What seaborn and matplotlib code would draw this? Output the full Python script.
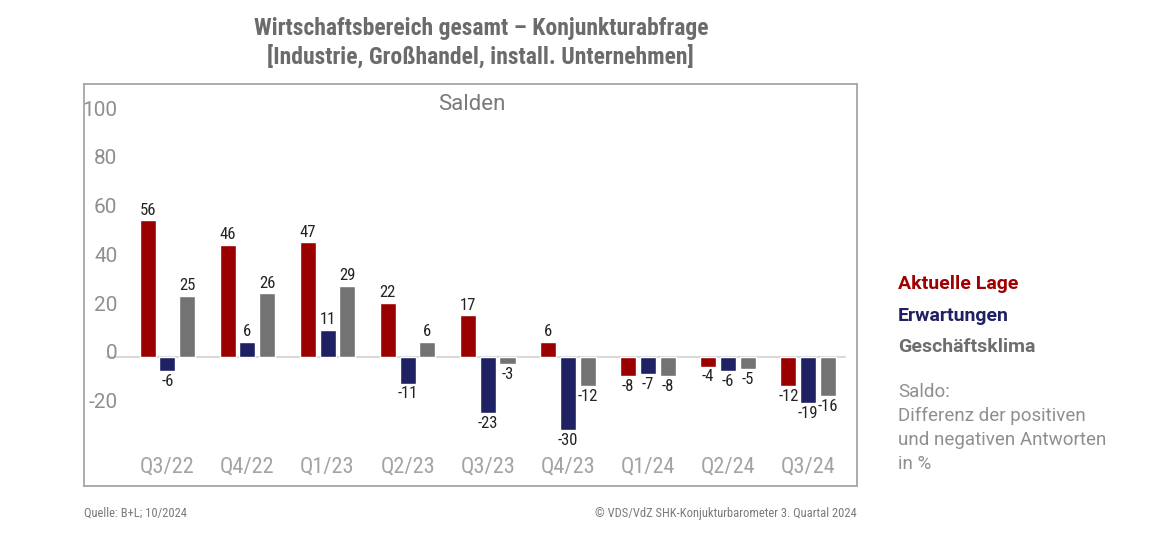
import matplotlib
matplotlib.use("Agg")
import matplotlib.pyplot as plt
import matplotlib.transforms as mtransforms
from matplotlib import font_manager
import seaborn as sns
import pandas as pd

quarters = ["Q3/22", "Q4/22", "Q1/23", "Q2/23", "Q3/23", "Q4/23", "Q1/24", "Q2/24", "Q3/24"]
series_names = ["Aktuelle Lage", "Erwartungen", "Geschäftsklima"]
aktuelle_lage = [56, 46, 47, 22, 17, 6, -8, -4, -12]
erwartungen = [-6, 6, 11, -11, -23, -30, -7, -6, -19]
geschaeftsklima = [25, 26, 29, 6, -3, -12, -8, -5, -16]
y_ticks = [-20, 0, 20, 40, 60, 80, 100]
colors = ["#9B0000", "#1F2162", "#737373"]

rows = []
for name, vals in zip(series_names, [aktuelle_lage, erwartungen, geschaeftsklima]):
    for q, v in zip(quarters, vals):
        rows.append({"Quartal": q, "Reihe": name, "Saldo": v})
df = pd.DataFrame(rows)

sns.set_style("white")
available = {f.name for f in font_manager.fontManager.ttflist}
def pick(names):
    for n in names:
        if n in available:
            return n
    return "DejaVu Sans"
cond = pick(["Roboto Condensed", "Liberation Sans Narrow", "Roboto"])
reg = pick(["Roboto", "DejaVu Sans"])
plt.rcParams["font.family"] = [reg, "DejaVu Sans"]

fig = plt.figure(figsize=(11.7, 5.52), dpi=100)
ax = fig.add_axes([0.0718, 0.1196, 0.6607, 0.7283])

sns.barplot(data=df, x="Quartal", y="Saldo", hue="Reihe", hue_order=series_names,
            order=quarters, palette=colors, width=0.74, gap=0.19, errorbar=None,
            legend=False, ax=ax, saturation=1)

ax.set_xlim(-1.04, 8.61)
ax.set_ylim(-53, 112)
ax.axhline(0, xmin=0.03, xmax=0.985, color="#d9d9d9", lw=1.5, zorder=0)

for c in ax.containers:
    ax.bar_label(c, fmt="%d", padding=2, fontsize=12, color="#222222", family=cond)

for s in ax.spines.values():
    s.set_color("#a6a6a6")
    s.set_linewidth(1.3)
    s.set_visible(True)

ax.set_yticks(y_ticks)
ax.set_yticklabels([str(t) for t in y_ticks])
ax.tick_params(axis="y", length=0, pad=-24, labelsize=15, labelcolor="#8f8f8f")
for lab in ax.get_yticklabels():
    lab.set_transform(lab.get_transform() + mtransforms.ScaledTranslation(0, 5 / 100, fig.dpi_scale_trans))
ax.tick_params(axis="x", length=0, pad=-21, labelsize=16, labelcolor="#a3a3a3")
for lab in ax.get_xticklabels():
    lab.set_family(cond)
ax.set_xlabel("")
ax.set_ylabel("")

ax.text(0.502, 0.95, "Salden", transform=ax.transAxes, ha="center", va="center",
        fontsize=16, color="#7a7a7a")

fig.text(0.411, 0.922, "Wirtschaftsbereich gesamt – Konjunkturabfrage\n[Industrie, Großhandel, install. Unternehmen]",
         ha="center", va="center", fontsize=17, fontweight="bold", color="#6b6b6b",
         family=cond, linespacing=1.25)

legend_y = [284, 316, 347]
for name, col, y in zip(series_names, ["#A00000", "#1F2162", "#6E6E6E"], legend_y):
    fig.text(898 / 1170, 1 - y / 552, name, ha="left", va="center", fontsize=14,
             fontweight="bold", color=col)

fig.text(898 / 1170, 1 - 383 / 552,
         "Saldo:\nDifferenz der positiven\nund negativen Antworten\nin %",
         ha="left", va="top", fontsize=13.5, color="#8f8f8f", linespacing=1.42)

fig.text(84 / 1170, 1 - 513 / 552, "Quelle: B+L; 10/2024", ha="left", va="center",
         fontsize=9, color="#7a7a7a", family=cond)
fig.text(857 / 1170, 1 - 513 / 552, "© VDS/VdZ SHK-Konjukturbarometer 3. Quartal 2024",
         ha="right", va="center", fontsize=9, color="#7a7a7a", family=cond)

fig.savefig("out.png", dpi=100, facecolor="white")
